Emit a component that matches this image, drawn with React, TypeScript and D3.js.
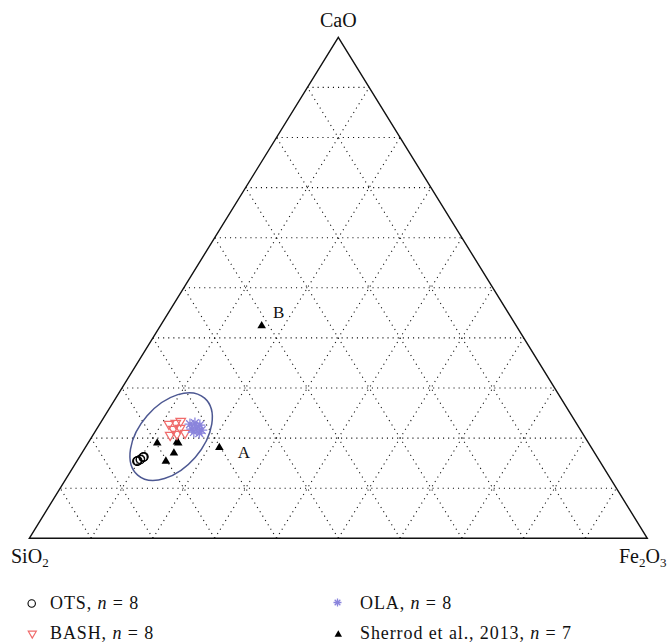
import React from 'react';
import * as d3 from 'd3';

// Ternary components: [SiO2, CaO, Fe2O3] in wt% (normalised)
const axisNames = ['SiO2', 'CaO', 'Fe2O3'];
const gridSteps = [10, 20, 30, 40, 50, 60, 70, 80, 90];

const otsPoints: [number, number, number][] = [
  [74.9, 15.4, 9.7],
  [74.8, 15.4, 9.8],
  [74.2, 15.7, 10.1],
  [74.1, 15.8, 10.1],
  [73.4, 16.2, 10.4],
  [73.3, 16.3, 10.4],
  [74.7, 15.5, 9.8],
  [73.5, 16.2, 10.3],
];

const bashPoints: [number, number, number][] = [
  [66.0, 22.8, 11.2],
  [64.8, 23.0, 12.2],
  [63.8, 23.4, 12.8],
  [65.8, 21.8, 12.4],
  [64.6, 22.0, 13.4],
  [66.9, 20.6, 12.5],
  [65.7, 20.8, 13.5],
  [64.3, 21.0, 14.7],
];

const olaPoints: [number, number, number][] = [
  [62.6, 22.8, 14.6],
  [61.7, 23.0, 15.3],
  [61.1, 22.6, 16.3],
  [62.8, 21.8, 15.4],
  [61.9, 22.0, 16.1],
  [61.3, 21.6, 17.1],
  [62.7, 21.2, 16.0],
  [62.0, 21.0, 17.0],
];

const sherrodPoints: [number, number, number][] = [
  [69.8, 19.0, 11.2],
  [66.4, 19.0, 14.6],
  [68.1, 17.0, 14.9],
  [70.2, 15.4, 14.4],
  [60.2, 18.1, 21.7],
  [41.2, 42.4, 16.4],
  [66.5, 19.2, 14.3],
];
const sherrodLabels = ['', '', '', '', 'A', 'B', ''];

// grouping ellipse (centre composition)
const ellipseCentre: [number, number, number] = [66.9, 20.3, 12.8];

const legendItems = [
  { key: 'OTS', label: 'OTS, ', n: 8 },
  { key: 'BASH', label: 'BASH, ', n: 8 },
  { key: 'OLA', label: 'OLA, ', n: 8 },
  { key: 'Sherrod', label: 'Sherrod et al., 2013, ', n: 7 },
];

const W = 669;
const H = 643;
const left = 29.3;
const right = 647.3;
const bottom = 538.3;
const top = 37.3;

const xs = d3.scaleLinear().domain([0, 100]).range([left, right]);
const ys = d3.scaleLinear().domain([0, 100]).range([bottom, top]);

function proj(p: [number, number, number]): [number, number] {
  const sum = p[0] + p[1] + p[2];
  const c = (p[1] / sum) * 100;
  const f = (p[2] / sum) * 100;
  return [xs(f + c / 2), ys(c)];
}

const RED = '#f06b6b';
const PURPLE = '#8a84dc';
const ELLIPSE = '#4d5892';
const FONT = '"Liberation Serif", "Times New Roman", serif';

function starPath(r: number) {
  const segs: string[] = [];
  for (let k = 0; k < 4; k++) {
    const a = (k * Math.PI) / 4;
    const dx = Math.cos(a) * r;
    const dy = Math.sin(a) * r;
    segs.push(`M${-dx},${-dy}L${dx},${dy}`);
  }
  return segs.join('');
}

const upTri = d3.symbol().type(d3.symbolTriangle).size(32)() as string;
const downTri = d3.symbol().type(d3.symbolTriangle).size(40)() as string;
const legendUpTri = d3.symbol().type(d3.symbolTriangle).size(24)() as string;
const legendDownTri = d3.symbol().type(d3.symbolTriangle).size(28)() as string;

function Marker({ kind, x, y, legend }: { kind: string; x: number; y: number; legend?: boolean }) {
  if (kind === 'OTS')
    return <circle cx={x} cy={y} r={legend ? 3.7 : 4.2} fill="none" stroke="#000" strokeWidth={1.1} />;
  if (kind === 'BASH')
    return (
      <path
        d={legend ? legendDownTri : downTri}
        transform={`translate(${x},${y}) rotate(180)`}
        fill="none"
        stroke={RED}
        strokeWidth={1.2}
      />
    );
  if (kind === 'OLA')
    return <path d={starPath(legend ? 4 : 5.5)} transform={`translate(${x},${y})`} stroke={PURPLE} strokeWidth={1.3} fill="none" />;
  return <path d={legend ? legendUpTri : upTri} transform={`translate(${x},${y})`} fill="#000" />;
}

export default function App() {
  const L: [number, number] = proj([100, 0, 0]);
  const T: [number, number] = proj([0, 100, 0]);
  const R: [number, number] = proj([0, 0, 100]);

  const gridLines: [number, number, number, number][] = [];
  gridSteps.forEach((t) => {
    let a = proj([100 - t, t, 0]);
    let b = proj([0, t, 100 - t]);
    gridLines.push([a[0], a[1], b[0], b[1]]);
    a = proj([100 - t, 0, t]);
    b = proj([0, 100 - t, t]);
    gridLines.push([a[0], a[1], b[0], b[1]]);
    a = proj([t, 0, 100 - t]);
    b = proj([t, 100 - t, 0]);
    gridLines.push([a[0], a[1], b[0], b[1]]);
  });

  const ec = proj(ellipseCentre);
  const sideLen = right - left;

  const legendPos = [
    { x: 31.7, y: 603.5, tx: 50, ty: 609 },
    { x: 32.3, y: 633.5, tx: 50, ty: 639 },
    { x: 337.5, y: 602.5, tx: 360, ty: 609 },
    { x: 338.3, y: 634.5, tx: 360, ty: 639 },
  ];

  return (
    <svg
      width={W}
      height={H}
      style={{ position: 'absolute', left: 0, top: 0, background: '#fff' }}
      fontFamily={FONT}
    >
      <rect x={0} y={0} width={W} height={H} fill="#fff" />
      <g stroke="#111" strokeWidth={1.1} strokeDasharray="1.1,4">
        {gridLines.map((g, i) => (
          <line key={i} x1={g[0]} y1={g[1]} x2={g[2]} y2={g[3]} />
        ))}
      </g>
      <path
        d={`M${L[0]},${L[1]}L${T[0]},${T[1]}L${R[0]},${R[1]}Z`}
        fill="none"
        stroke="#111"
        strokeWidth={1.4}
      />
      <text x={T[0]} y={27} fontSize={20} textAnchor="middle" fill="#111">
        CaO
      </text>
      <text x={11} y={563} fontSize={20} fill="#111">
        SiO<tspan fontSize={13} dy={4}>2</tspan>
      </text>
      <text x={619} y={563} fontSize={20} fill="#111">
        Fe<tspan fontSize={13} dy={4}>2</tspan>
        <tspan dy={-4}>O</tspan>
        <tspan fontSize={13} dy={4}>3</tspan>
      </text>

      <ellipse
        cx={ec[0]}
        cy={ec[1]}
        rx={sideLen * 0.0825}
        ry={sideLen * 0.0515}
        transform={`rotate(-49 ${ec[0]} ${ec[1]})`}
        fill="none"
        stroke={ELLIPSE}
        strokeWidth={1.5}
      />

      {sherrodPoints.map((p, i) => {
        const [x, y] = proj(p);
        return <Marker key={'s' + i} kind="Sherrod" x={x} y={y} />;
      })}
      {otsPoints.map((p, i) => {
        const [x, y] = proj(p);
        return <Marker key={'o' + i} kind="OTS" x={x} y={y} />;
      })}
      {bashPoints.map((p, i) => {
        const [x, y] = proj(p);
        return <Marker key={'b' + i} kind="BASH" x={x} y={y} />;
      })}
      {olaPoints.map((p, i) => {
        const [x, y] = proj(p);
        return <Marker key={'l' + i} kind="OLA" x={x} y={y} />;
      })}
      {sherrodPoints.map((p, i) => {
        const lab = sherrodLabels[i];
        if (!lab) return null;
        const [x, y] = proj(p);
        const off = lab === 'A' ? [24.5, 10.8] : [17, -7.8];
        return (
          <text key={'lab' + i} x={x + off[0]} y={y + off[1]} fontSize={17} textAnchor="middle" fill="#111">
            {lab}
          </text>
        );
      })}

      {legendItems.map((it, i) => {
        const pos = legendPos[i];
        return (
          <g key={it.key}>
            <Marker kind={it.key} x={pos.x} y={pos.y} legend />
            <text x={pos.tx} y={pos.ty} fontSize={18} letterSpacing={0.9} fill="#111">
              {it.label}
              <tspan fontStyle="italic">n</tspan> = {it.n}
            </text>
          </g>
        );
      })}
    </svg>
  );
}
